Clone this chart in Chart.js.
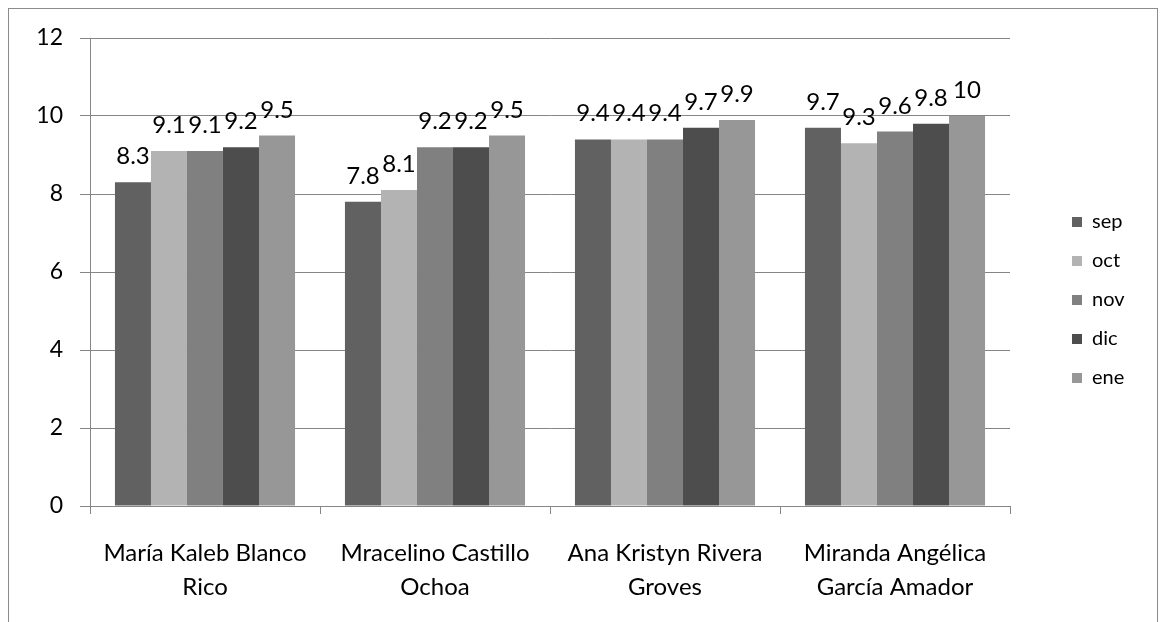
<!DOCTYPE html>
<html>
<head>
<meta charset="utf-8">
<script src="https://cdn.jsdelivr.net/npm/chart.js@4/dist/chart.umd.min.js"></script>
<style>
  html, body { margin: 0; padding: 0; background: #fff; }
  #wrap { position: relative; width: 1160px; height: 622px; overflow: hidden; }
  #frame { position: absolute; left: 8px; top: 8px; width: 1150px; height: 640px;
           border: 1px solid #8c8c8c; box-sizing: border-box; pointer-events: none; }
  canvas { position: absolute; left: 0; top: 0; }
</style>
</head>
<body>
<div id="wrap">
  <canvas id="barChart" width="1160" height="622"></canvas>
  <div id="frame"></div>
</div>
<script>
// students (category labels, split in two lines like the original)
var students = [
    ['María Kaleb Blanco', 'Rico'],
    ['Mracelino Castillo', 'Ochoa'],
    ['Ana Kristyn Rivera', 'Groves'],
    ['Miranda Angélica', 'García Amador']
];
var months = ['sep', 'oct', 'nov', 'dic', 'ene'];
var sep = [8.3, 7.8, 9.4, 9.7];
var oct = [9.1, 8.1, 9.4, 9.3];
var nov = [9.1, 9.2, 9.4, 9.6];
var dic = [9.2, 9.2, 9.7, 9.8];
var ene = [9.5, 9.5, 9.9, 10];
var yTicks = [0, 2, 4, 6, 8, 10, 12];

var colors = ['#616161', '#b3b3b3', '#808080', '#4d4d4d', '#979797'];
var series = [sep, oct, nov, dic, ene];
var fontFamily = 'Lato, "Open Sans", sans-serif';

// value labels over the bars
var valueLabels = {
    id: 'valueLabels',
    afterDatasetsDraw: function (chart) {
        var c = chart.ctx;
        c.save();
        c.font = '24px ' + fontFamily;
        c.fillStyle = '#000';
        c.textAlign = 'center';
        c.textBaseline = 'alphabetic';
        chart.data.datasets.forEach(function (ds, i) {
            chart.getDatasetMeta(i).data.forEach(function (bar, j) {
                c.fillText(String(ds.data[j]), bar.x, bar.y - 18);
            });
        });
        c.restore();
    }
};

// legend on the right, drawn from the datasets
var sideLegend = {
    id: 'sideLegend',
    afterDraw: function (chart) {
        var c = chart.ctx;
        c.save();
        c.font = '20px ' + fontFamily;
        c.textBaseline = 'middle';
        c.textAlign = 'left';
        chart.data.datasets.forEach(function (ds, i) {
            var y = 222 + i * 39;
            c.fillStyle = ds.backgroundColor;
            c.fillRect(1072, y - 5, 10, 10);
            c.fillStyle = '#000';
            c.fillText(ds.label, 1092, y);
        });
        c.restore();
    }
};

var ctx = document.getElementById('barChart').getContext('2d');
var myChart = new Chart(ctx, {
    type: 'bar',
    data: {
        labels: students,
        datasets: months.map(function (m, i) {
            return {
                label: m,
                data: series[i],
                backgroundColor: colors[i],
                borderWidth: 0,
                categoryPercentage: 0.783,
                barPercentage: 1
            };
        })
    },
    options: {
        responsive: false,
        animation: false,
        layout: { padding: { left: 0, top: 38, right: 150, bottom: 0 } },
        plugins: {
            legend: { display: false },
            tooltip: { enabled: false }
        },
        scales: {
            x: {
                grid: { display: true, drawOnChartArea: false, color: '#868686', tickLength: 8, offset: true },
                border: { color: '#868686' },
                ticks: { color: '#000', padding: 22, maxRotation: 0, autoSkip: false,
                         font: { family: fontFamily, size: 24, lineHeight: 1.42 } },
                afterFit: function (s) { s.height = 116; }
            },
            y: {
                min: 0,
                max: 12,
                afterBuildTicks: function (s) { s.ticks = yTicks.map(function (v) { return { value: v }; }); },
                grid: { color: '#868686', tickLength: 10 },
                border: { color: '#868686' },
                ticks: { color: '#000', padding: 17, font: { family: fontFamily, size: 23 } },
                afterFit: function (s) { s.width = 90; }
            }
        }
    },
    plugins: [valueLabels, sideLegend]
});
</script>
</body>
</html>
